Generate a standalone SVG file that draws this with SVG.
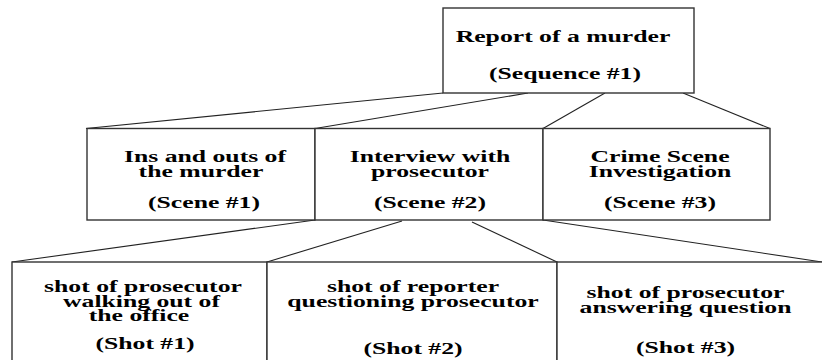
<svg xmlns="http://www.w3.org/2000/svg" width="822" height="360" viewBox="0 0 822 360">
<style>
.box{fill:#fff;stroke:#333;stroke-width:1.4}
.c{fill:none;stroke:#222;stroke-width:1.1}
text{font-family:"Liberation Serif","Times New Roman",serif;font-weight:bold;font-size:16px;fill:#000;text-anchor:middle}
</style>
<rect width="822" height="360" fill="#fff"/>
<g id="connectors">
<line class="c" x1="443" y1="93" x2="86" y2="128.5"/>
<line class="c" x1="528" y1="93" x2="315" y2="128.5"/>
<line class="c" x1="605" y1="93" x2="543" y2="128.5"/>
<line class="c" x1="683" y1="93" x2="770" y2="128.5"/>
<line class="c" x1="315" y1="220" x2="12" y2="262"/>
<line class="c" x1="402" y1="221" x2="267" y2="262"/>
<line class="c" x1="472" y1="222" x2="557" y2="262"/>
<line class="c" x1="543" y1="220" x2="822" y2="262"/>
</g>
<g id="sequence1">
<rect class="box" x="443" y="8" width="251" height="85"/>
<text transform="translate(563,42) scale(1.606,1)">Report of a murder</text>
<text transform="translate(565,79) scale(1.606,1)">(Sequence #1)</text>
</g>
<g id="scene1">
<rect class="box" x="87" y="128.5" width="228" height="91.5"/>
<text transform="translate(205,162) scale(1.606,1)">Ins and outs of</text>
<text transform="translate(201,176.5) scale(1.606,1)">the murder</text>
<text transform="translate(204,208) scale(1.606,1)">(Scene #1)</text>
</g>
<g id="scene2">
<rect class="box" x="315" y="128.5" width="228" height="91.5"/>
<text transform="translate(430,162) scale(1.606,1)">Interview with</text>
<text transform="translate(430,176.5) scale(1.606,1)">prosecutor</text>
<text transform="translate(430,208) scale(1.606,1)">(Scene #2)</text>
</g>
<g id="scene3">
<rect class="box" x="543" y="128.5" width="227" height="91.5"/>
<text transform="translate(660,162) scale(1.606,1)">Crime Scene</text>
<text transform="translate(660,176.5) scale(1.606,1)">Investigation</text>
<text transform="translate(660,208) scale(1.606,1)">(Scene #3)</text>
</g>
<g id="shot1">
<rect class="box" x="12" y="262" width="255" height="110"/>
<text transform="translate(143,292) scale(1.606,1)">shot of prosecutor</text>
<text transform="translate(141.5,306.5) scale(1.606,1)">walking out of</text>
<text transform="translate(139,321) scale(1.606,1)">the office</text>
<text transform="translate(145,349) scale(1.606,1)">(Shot #1)</text>
</g>
<g id="shot2">
<rect class="box" x="267" y="262" width="290" height="110"/>
<text transform="translate(413,292) scale(1.606,1)">shot of reporter</text>
<text transform="translate(413,307) scale(1.606,1)">questioning prosecutor</text>
<text transform="translate(413,354) scale(1.606,1)">(Shot #2)</text>
</g>
<g id="shot3">
<rect class="box" x="557" y="262" width="280" height="110"/>
<text transform="translate(685.5,298) scale(1.606,1)">shot of prosecutor</text>
<text transform="translate(685.5,313) scale(1.606,1)">answering question</text>
<text transform="translate(685.5,353) scale(1.606,1)">(Shot #3)</text>
</g>
</svg>
